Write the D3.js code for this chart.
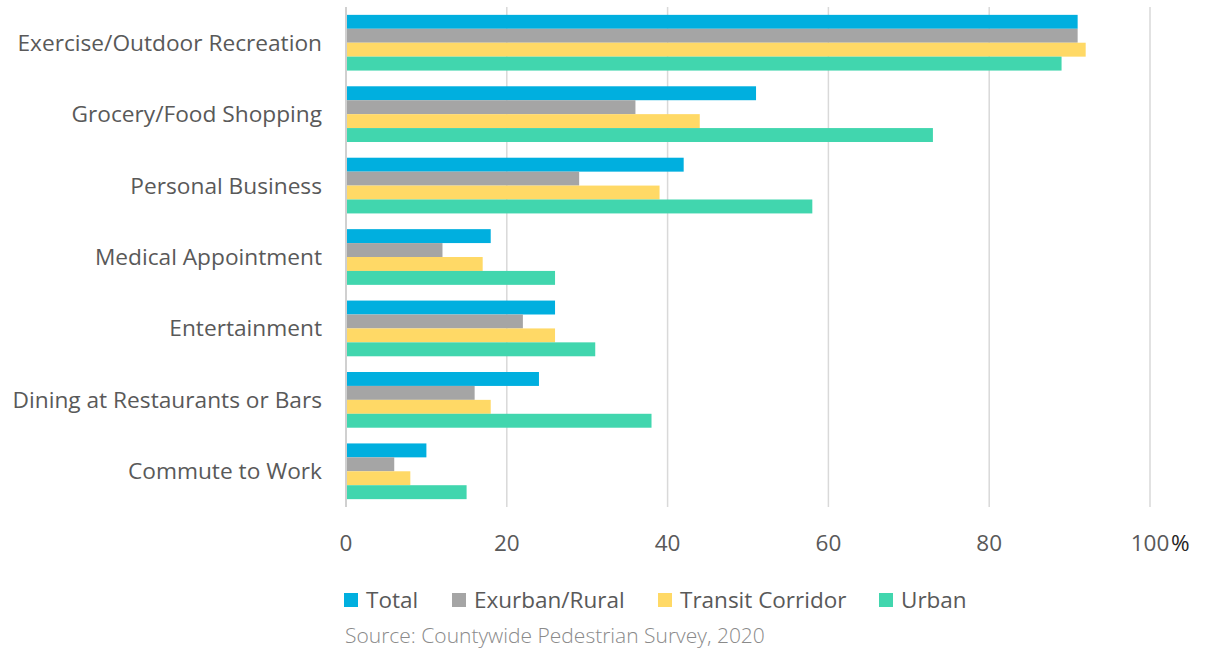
<!DOCTYPE html>
<html lang="en">
<head>
    <meta charset="UTF-8">
    <title>Trip purposes by area type</title>
    <script src="https://d3js.org/d3.v7.min.js"></script>
    <style>
        body { margin: 0; background: #fff; }
        text { font-family: "Open Sans", sans-serif; }
    </style>
</head>
<body>
    <div id="chart"></div>

    <script>
        // Categories (top to bottom) and series values in percent
        const categories = [
            "Exercise/Outdoor Recreation",
            "Grocery/Food Shopping",
            "Personal Business",
            "Medical Appointment",
            "Entertainment",
            "Dining at Restaurants or Bars",
            "Commute to Work"
        ];
        const seriesNames = ["Total", "Exurban/Rural", "Transit Corridor", "Urban"];
        const total        = [91, 51, 42, 18, 26, 24, 10];
        const exurbanRural = [91, 36, 29, 12, 22, 16, 6];
        const transit      = [92, 44, 39, 17, 26, 18, 8];
        const urban        = [89, 73, 58, 26, 31, 38, 15];
        const xTicks = [0, 20, 40, 60, 80, 100];
        const colors = ["#00afdf", "#a5a5a5", "#ffd966", "#41d6ae"];

        const allSeries = [total, exurbanRural, transit, urban];

        const W = 1216, H = 650;
        const margin = { top: 7, right: 66, bottom: 143, left: 346 };
        const width = W - margin.left - margin.right,
              height = H - margin.top - margin.bottom;

        const svg = d3.select("#chart").append("svg")
            .attr("width", W)
            .attr("height", H);

        const g = svg.append("g")
            .attr("transform", `translate(${margin.left},${margin.top})`);

        const x = d3.scaleLinear().domain([0, 100]).range([0, width]);
        const y0 = d3.scaleBand().domain(categories).range([0, height])
            .paddingInner(0.22).paddingOuter(0.11);
        const y1 = d3.scaleBand().domain(seriesNames).range([0, y0.bandwidth()]);

        // gridlines
        g.selectAll(".grid")
            .data(xTicks.slice(1))
            .enter().append("line")
            .attr("x1", d => x(d)).attr("x2", d => x(d))
            .attr("y1", 0).attr("y2", height)
            .attr("stroke", "#d9d9d9")
            .attr("stroke-width", 1.5);

        // bars
        const groups = g.selectAll(".grp")
            .data(categories)
            .enter().append("g")
            .attr("transform", d => `translate(0,${y0(d)})`);

        groups.selectAll("rect")
            .data((c, i) => seriesNames.map((s, j) => ({ s, v: allSeries[j][i], j })))
            .enter().append("rect")
            .attr("x", 0)
            .attr("y", d => y1(d.s))
            .attr("width", d => x(d.v))
            .attr("height", y1.bandwidth())
            .attr("fill", d => colors[d.j]);

        // vertical axis line
        g.append("line")
            .attr("x1", 0).attr("x2", 0)
            .attr("y1", 0).attr("y2", height)
            .attr("stroke", "#d0d0d0")
            .attr("stroke-width", 2);

        // category labels
        g.selectAll(".cat")
            .data(categories)
            .enter().append("text")
            .attr("x", -24)
            .attr("y", d => y0(d) + y0.bandwidth() / 2)
            .attr("dy", "0.35em")
            .attr("text-anchor", "end")
            .attr("fill", "#595959")
            .style("font-size", "22.7px")
            .text(d => d);

        // x tick labels
        const tickY = height + 44;
        g.selectAll(".tick-label")
            .data(xTicks)
            .enter().append("text")
            .attr("x", d => x(d))
            .attr("y", tickY)
            .attr("text-anchor", "middle")
            .attr("fill", "#595959")
            .style("font-size", "22.5px")
            .text(d => d);

        g.append("text")
            .attr("x", x(100) + 21)
            .attr("y", tickY)
            .attr("fill", "#262626")
            .style("font-size", "22.5px")
            .text("%");

        // legend
        const legendX = [-2, 106, 312, 533];
        const legend = g.append("g")
            .attr("transform", `translate(0,${height + 93})`);
        seriesNames.forEach((name, i) => {
            const row = legend.append("g").attr("transform", `translate(${legendX[i]},0)`);
            row.append("rect")
                .attr("x", 0).attr("y", -7)
                .attr("width", 14).attr("height", 14)
                .attr("fill", colors[i]);
            row.append("text")
                .attr("x", 22)
                .attr("y", 0)
                .attr("dy", "0.35em")
                .attr("fill", "#595959")
                .style("font-size", "22.5px")
                .text(name);
        });

        // source note
        svg.append("text")
            .attr("x", 345)
            .attr("y", 643)
            .attr("fill", "#8a8a8a")
            .style("font-size", "21px")
            .style("font-weight", 300)
            .text("Source: Countywide Pedestrian Survey, 2020");
    </script>
</body>
</html>
